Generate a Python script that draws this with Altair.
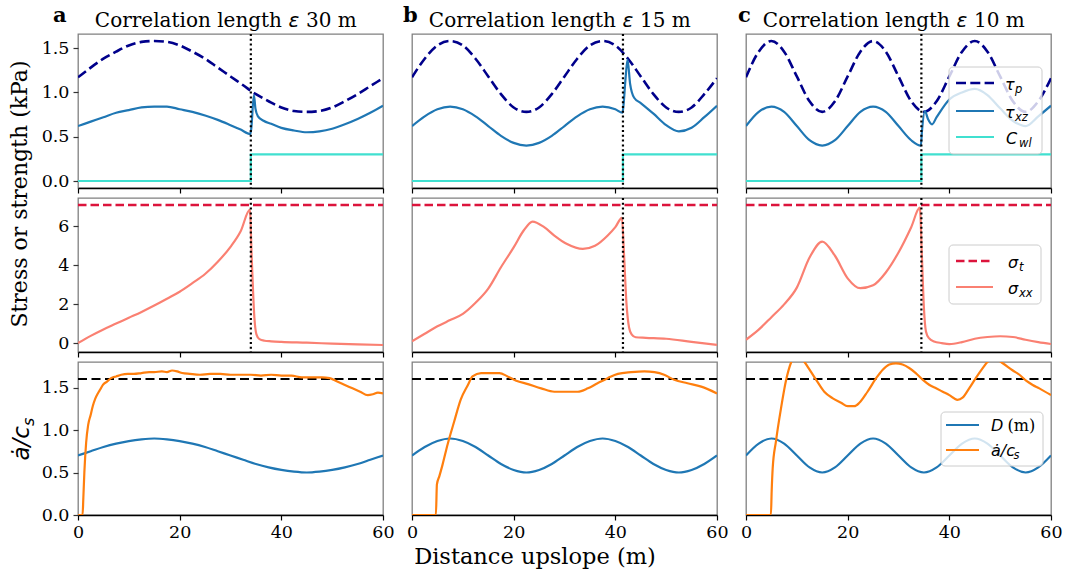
import altair as alt
import pandas as pd

# ------------------------------------------------------------------ data
X_GRID = [0, 2.5, 5, 7.5, 10, 12.5, 15, 17.5, 20, 22.5, 25, 27.5, 30,
          32.5, 35, 37.5, 40, 42.5, 45, 47.5, 50, 52.5, 55, 57.5, 60]

TAU_P_A = [1.17, 1.28, 1.38, 1.46, 1.53, 1.57, 1.58, 1.57, 1.53, 1.46, 1.38, 1.28, 1.18,
           1.08, 0.98, 0.90, 0.83, 0.79, 0.78, 0.79, 0.83, 0.90, 0.98, 1.07, 1.16]
TAU_P_B = [1.17, 1.38, 1.53, 1.58, 1.53, 1.38, 1.18, 0.98, 0.83, 0.78, 0.83, 0.98, 1.18,
           1.38, 1.53, 1.58, 1.53, 1.38, 1.18, 0.98, 0.83, 0.78, 0.83, 0.98, 1.16]
TAU_P_C = [1.17, 1.46, 1.58, 1.46, 1.18, 0.90, 0.78, 0.90, 1.18, 1.46, 1.58, 1.46, 1.18,
           0.90, 0.78, 0.90, 1.18, 1.46, 1.58, 1.46, 1.18, 0.90, 0.78, 0.90, 1.16]

D_A = [0.70, 0.75, 0.80, 0.84, 0.87, 0.89, 0.90, 0.89, 0.87, 0.84, 0.80, 0.75, 0.70,
       0.65, 0.60, 0.56, 0.53, 0.51, 0.50, 0.51, 0.53, 0.56, 0.60, 0.65, 0.70]
D_B = [0.70, 0.80, 0.87, 0.90, 0.87, 0.80, 0.70, 0.60, 0.53, 0.50, 0.53, 0.60, 0.70,
       0.80, 0.87, 0.90, 0.87, 0.80, 0.70, 0.60, 0.53, 0.50, 0.53, 0.60, 0.70]
D_C = [0.70, 0.84, 0.90, 0.84, 0.70, 0.56, 0.50, 0.56, 0.70, 0.84, 0.90, 0.84, 0.70,
       0.56, 0.50, 0.56, 0.70, 0.84, 0.90, 0.84, 0.70, 0.56, 0.50, 0.56, 0.70]

TXZ_A_X = [0, 2.5, 5, 7.5, 10, 12.5, 15, 17.5, 20, 22.5, 25, 27.5, 30, 32, 33.9,
           34.1, 34.6, 34.9, 35.4, 36.5, 38, 40, 42.5, 45, 47.5, 50, 52.5, 55, 57.5, 60]
TXZ_A = [0.62, 0.67, 0.72, 0.77, 0.80, 0.83, 0.84, 0.84, 0.81, 0.78, 0.74, 0.69, 0.63, 0.58, 0.53,
         0.60, 0.97, 0.82, 0.73, 0.68, 0.645, 0.60, 0.57, 0.55, 0.56, 0.59, 0.64, 0.70, 0.77, 0.85]

TXZ_B_X = [0, 2.5, 5, 7.5, 10, 12.5, 15, 17.5, 20, 22.5, 25, 27.5, 30, 32.5, 35,
           37.5, 40, 41.4, 41.6, 42.0, 42.4, 42.9, 43.7, 45, 47.5, 50, 52.5, 55, 57.5, 60]
TXZ_B = [0.62, 0.73, 0.81, 0.84, 0.81, 0.73, 0.62, 0.51, 0.43, 0.40, 0.43, 0.51, 0.62, 0.73, 0.81,
         0.84, 0.81, 0.77, 0.85, 1.15, 1.37, 1.10, 0.94, 0.88, 0.76, 0.63, 0.56, 0.60, 0.72, 0.85]

TXZ_C_X = [0, 2.5, 5, 7.5, 10, 12.5, 15, 17.5, 20, 22.5, 25, 27.5, 30, 32.5, 34.4,
           34.6, 35.2, 35.8, 36.6, 37.5, 40, 42.5, 45, 47.5, 50, 52.5, 55, 57.5, 60]
TXZ_C = [0.62, 0.78, 0.84, 0.78, 0.62, 0.46, 0.40, 0.46, 0.62, 0.78, 0.84, 0.78, 0.62, 0.46, 0.40,
         0.55, 0.79, 0.70, 0.64, 0.72, 0.92, 1.00, 1.04, 0.97, 0.82, 0.68, 0.62, 0.73, 0.85]

SXX_A_X = [0, 2.5, 5, 7.5, 10, 12.5, 15, 17.5, 20, 22.5, 25, 27.5, 30, 32, 33.8,
           34.2, 34.7, 35.1, 35.7, 36.7, 38, 40, 45, 50, 55, 60]
SXX_A = [0.0, 0.37, 0.70, 1.00, 1.30, 1.60, 1.93, 2.28, 2.64, 3.08, 3.55, 4.18, 4.95, 5.75, 6.85,
         4.20, 1.30, 0.45, 0.20, 0.12, 0.09, 0.06, 0.02, -0.03, -0.07, -0.10]

SXX_B_X = [0, 2.5, 5, 7.5, 10, 12.5, 15, 17.5, 20, 22, 23.7, 26, 28, 30.5,
           33.6, 36, 38.5, 40, 41.3, 41.7, 42.2, 42.7, 43.2, 44, 46, 50, 55, 60]
SXX_B = [0.09, 0.48, 0.86, 1.18, 1.50, 2.07, 2.80, 3.90, 4.92, 5.80, 6.25, 5.96, 5.53, 5.09,
         4.84, 5.00, 5.53, 5.96, 6.44, 4.60, 2.00, 0.80, 0.45, 0.30, 0.27, 0.22, 0.06, -0.09]

SXX_C_X = [0, 2.5, 5, 7.5, 10, 12.5, 15, 17.5, 20, 22.5, 25, 27.5, 30, 32.5, 34.2,
           34.6, 35.0, 35.4, 36, 37, 38.5, 40, 42.5, 45, 47.5, 50, 52.5, 55, 57.5, 60]
SXX_C = [0.17, 0.69, 1.33, 1.99, 2.85, 4.40, 5.22, 4.49, 3.33, 2.82, 2.97, 3.63, 4.66, 5.96, 6.96,
         4.50, 1.80, 0.60, 0.25, 0.08, 0.00, -0.05, 0.05, 0.22, 0.31, 0.35, 0.31, 0.17, 0.05, -0.05]

ADOT_A_X = [0, 0.9, 1.05, 1.25, 1.6, 2.0, 2.5, 2.9, 3.4, 3.9, 4.4, 4.9, 5.7, 6.5, 7.5, 8.5,
            9.8, 11, 12.5, 14, 15, 16.5, 17.5, 18.5, 19.5, 20.5, 22, 24, 26, 28, 30, 32, 34,
            36, 38, 40, 42, 44, 46, 48, 49.5, 51, 52.5, 54, 55.5, 57, 58, 59, 60]
ADOT_A = [0, 0, 0.20, 0.50, 0.85, 1.06, 1.18, 1.28, 1.37, 1.43, 1.48, 1.53, 1.57, 1.61, 1.63, 1.65,
          1.66, 1.66, 1.67, 1.68, 1.68, 1.69, 1.68, 1.70, 1.69, 1.67, 1.66, 1.65, 1.66, 1.66, 1.65,
          1.65, 1.65, 1.64, 1.65, 1.64, 1.64, 1.62, 1.62, 1.62, 1.61, 1.57, 1.53, 1.49, 1.45, 1.41,
          1.42, 1.44, 1.43]

ADOT_B_X = [0, 4.7, 4.9, 5.4, 6.0, 7.0, 8.3, 9.6, 11.0, 11.9, 13.6, 15.2, 17.2, 18.8, 20.5, 22.8,
            25.4, 28.0, 30.6, 32.6, 34.6, 36.5, 38.5, 40.5, 43.1, 45.7, 47.7, 49.6, 51.6, 54.2,
            56.9, 60]
ADOT_B = [0, 0, 0.36, 0.46, 0.59, 0.83, 1.10, 1.36, 1.53, 1.63, 1.67, 1.67, 1.67, 1.63, 1.58, 1.54,
          1.49, 1.45, 1.45, 1.45, 1.49, 1.55, 1.61, 1.66, 1.68, 1.69, 1.68, 1.65, 1.59, 1.55,
          1.51, 1.43]

ADOT_C_X = [0, 4.9, 5.05, 5.25, 5.9, 6.9, 7.9, 8.9, 10.2, 11.5, 13.8, 15.4, 17.0, 18.7, 20.0,
            21.3, 22.3, 23.9, 25.6, 26.9, 28.2, 29.5, 30.8, 32.1, 33.4, 34.8, 36.1, 37.4, 38.7,
            40.0, 41.0, 41.6, 42.6, 43.9, 45.2, 46.6, 47.5, 49.0, 50.5, 52.5, 53.8, 55.1, 56.4,
            57.7, 60]
ADOT_C = [0, 0, 0.28, 0.55, 0.87, 1.26, 1.59, 1.80, 1.90, 1.80, 1.59, 1.45, 1.375, 1.32, 1.28,
          1.28, 1.32, 1.45, 1.61, 1.71, 1.77, 1.785, 1.77, 1.73, 1.67, 1.59, 1.53, 1.49, 1.45,
          1.41, 1.37, 1.355, 1.38, 1.49, 1.61, 1.73, 1.80, 1.84, 1.785, 1.70, 1.65, 1.58, 1.53,
          1.49, 1.41]

FRACTURE_X = [34.0, 41.5, 34.5]
EPSILON = [30, 15, 10]
LETTERS = ["a", "b", "c"]
C_WL_LEVEL = 0.3
SIGMA_T = 7.1
ADOT_CRIT = 1.6
X_TICKS = [0, 20, 40, 60]

TAU_P = [TAU_P_A, TAU_P_B, TAU_P_C]
D_ALL = [D_A, D_B, D_C]
TXZ_XS = [TXZ_A_X, TXZ_B_X, TXZ_C_X]
TXZ_ALL = [TXZ_A, TXZ_B, TXZ_C]
SXX_XS = [SXX_A_X, SXX_B_X, SXX_C_X]
SXX_ALL = [SXX_A, SXX_B, SXX_C]
ADOT_XS = [ADOT_A_X, ADOT_B_X, ADOT_C_X]
ADOT_ALL = [ADOT_A, ADOT_B, ADOT_C]

# ------------------------------------------------------------------ style
NAVY = "#00008b"
BLUE = "#1f77b4"
TURQ = "#40e0d0"
CRIMSON = "#dc143c"
SALMON = "#fa8072"
ORANGE = "#ff7f0e"
SERIF = "DejaVu Serif"
MATH = "DejaVu Sans"
TICK_FS = 17.5

W = 305
H1 = 154
H3 = 153

XSCALE = alt.Scale(domain=[0, 60], nice=False, zero=False)
Y1 = alt.Scale(domain=[-0.079, 1.659], nice=False, zero=False)
Y2 = alt.Scale(domain=[-0.46, 7.46], nice=False, zero=False)
Y3 = alt.Scale(domain=[0, 1.8], nice=False, zero=False)

ONE = alt.Data(values=[{"k": 0}])


def frame(xs, ys):
    return pd.DataFrame({"x": xs, "y": ys, "i": list(range(len(xs)))})


def x_enc(labels):
    return alt.X("x:Q", scale=XSCALE,
                 axis=alt.Axis(values=X_TICKS, labels=labels, title=None, format="d",
                               domain=True, domainColor="black", domainWidth=1.3,
                               ticks=True, tickSize=5, tickColor="black", tickWidth=1.2,
                               labelFont=SERIF, labelFontSize=TICK_FS, labelColor="black",
                               labelPadding=3, labelFlush=False, labelOverlap=False,
                               grid=False))


def y_enc(scale, ticks, fmt, show):
    if show:
        return alt.Y("y:Q", scale=scale,
                     axis=alt.Axis(values=ticks, format=fmt, title=None, domain=False,
                                   ticks=True, tickSize=5, tickColor="#333333", tickWidth=1.2,
                                   labelFont=SERIF, labelFontSize=TICK_FS, labelColor="black",
                                   labelPadding=4, labelFlush=False, labelOverlap=False,
                                   grid=False))
    return alt.Y("y:Q", scale=scale, axis=None)


def line_layer(df, xe, ye, color, width=2.2, dash=None, interp="monotone"):
    props = dict(color=color, strokeWidth=width, interpolate=interp, clip=True)
    if dash is not None:
        props["strokeDash"] = dash
    return alt.Chart(df).mark_line(**props).encode(x=xe, y=ye, order=alt.Order("i:Q"))


def vrule(xv, xe, h):
    return alt.Chart(pd.DataFrame({"x": [xv]})).mark_rule(
        color="black", strokeWidth=2.2, strokeDash=[2, 2.8]).encode(
        x=xe, y=alt.value(0), y2=alt.value(h))


def hline(yv, ye, color, dash, width):
    return alt.Chart(pd.DataFrame({"y": [yv]})).mark_rule(
        color=color, strokeWidth=width, strokeDash=dash).encode(
        y=ye, x=alt.value(0), x2=alt.value(W))


def text(px, py, s, size=16, font=SERIF, style="normal", weight="normal",
         align="left", baseline="alphabetic", angle=0, dy=0):
    return alt.Chart(ONE).mark_text(font=font, fontSize=size, fontStyle=style,
                                    fontWeight=weight, align=align, baseline=baseline,
                                    angle=angle, dy=dy, color="black").encode(
        x=alt.value(px), y=alt.value(py), text=alt.value(s))


def sample(x1, x2, y, color, width, dash=None):
    props = dict(color=color, strokeWidth=width)
    if dash is not None:
        props["strokeDash"] = dash
    return alt.Chart(ONE).mark_rule(**props).encode(
        x=alt.value(x1), x2=alt.value(x2), y=alt.value(y))


def box(x1, x2, y1, y2):
    return alt.Chart(ONE).mark_rect(fill="white", fillOpacity=0.8, stroke="#cccccc",
                                    strokeWidth=1, cornerRadius=4).encode(
        x=alt.value(x1), x2=alt.value(x2), y=alt.value(y1), y2=alt.value(y2))


LETTER_DX = [-25, -9, -8]
EPS_X = 216

rows = [[], [], []]
for k in range(3):
    xf = FRACTURE_X[k]
    show_y = k == 0
    xe0 = x_enc(False)
    xe1 = x_enc(True)

    # ---- row 1: shear stress / strength
    ye1 = y_enc(Y1, [0, 0.5, 1.0, 1.5], ".1f", show_y)
    top = [
        line_layer(frame(X_GRID, TAU_P[k]), xe0, ye1, NAVY, 2.6, [10, 4.3]),
        line_layer(frame(TXZ_XS[k], TXZ_ALL[k]), xe0, ye1, BLUE, 2.2),
        line_layer(frame([0, xf, xf, 60], [0, 0, C_WL_LEVEL, C_WL_LEVEL]), xe0, ye1, TURQ, 2.2,
                   interp="linear"),
        vrule(xf, xe0, H1),
        text(LETTER_DX[k], -12, LETTERS[k], size=21, weight="bold"),
        text(EPS_X - 12, -7, "Correlation length", size=20, align="right"),
        text(EPS_X, -7, "\u03b5", size=20, font=MATH, style="italic", align="center"),
        text(EPS_X + 12, -7, f"{EPSILON[k]} m", size=20, align="left"),
    ]
    if k == 0:
        top.append(text(-58, 160, "Stress or strength (kPa)", size=22, align="center",
                        baseline="middle", angle=270))
    if k == 2:
        top += [
            box(203, 296, 33, 120),
            sample(210, 248, 49, NAVY, 2.6, [10, 4.3]),
            sample(210, 248, 77, BLUE, 2.2),
            sample(210, 248, 103, TURQ, 2.2),
            text(259, 55.5, "\u03c4", size=16, font=MATH, style="italic"),
            text(269, 58.5, "p", size=11.5, font=MATH, style="italic"),
            text(259, 83.5, "\u03c4", size=16, font=MATH, style="italic"),
            text(269, 86.5, "xz", size=11.5, font=MATH, style="italic"),
            text(260, 109.5, "C", size=16, font=MATH, style="italic"),
            text(273, 112.5, "wl", size=11.5, font=MATH, style="italic"),
        ]
    rows[0].append(alt.layer(*top).properties(width=W, height=H1))

    # ---- row 2: tensile stress / strength
    ye2 = y_enc(Y2, [0, 2, 4, 6], "d", show_y)
    mid = [
        line_layer(frame(SXX_XS[k], SXX_ALL[k]), xe0, ye2, SALMON, 2.2),
        hline(SIGMA_T, ye2, CRIMSON, [8.5, 4], 2.5),
        vrule(xf, xe0, H1),
    ]
    if k == 2:
        mid += [
            box(203, 295, 47, 106),
            sample(210, 247, 63, CRIMSON, 2.5, [8.5, 4]),
            sample(210, 247, 89, SALMON, 2.2),
            text(262, 69.5, "\u03c3", size=16, font=MATH, style="italic"),
            text(273, 72.5, "t", size=11.5, font=MATH, style="italic"),
            text(262, 95.5, "\u03c3", size=16, font=MATH, style="italic"),
            text(273, 98.5, "xx", size=11.5, font=MATH, style="italic"),
        ]
    rows[1].append(alt.layer(*mid).properties(width=W, height=H1))

    # ---- row 3: slab depth and crack speed
    ye3 = y_enc(Y3, [0, 0.5, 1.0, 1.5], ".1f", show_y)
    bot = [
        hline(ADOT_CRIT, ye3, "black", [9, 4.5], 2.2),
        line_layer(frame(X_GRID, D_ALL[k]), xe1, ye3, BLUE, 2.2),
        line_layer(frame(ADOT_XS[k], ADOT_ALL[k]), xe1, ye3, ORANGE, 2.2),
    ]
    if k == 0:
        bot += [
            text(-49, 64, "\u0227/c", size=23, font=MATH, style="italic", align="right",
                 angle=270),
            text(-49, 64, "s", size=16, font=MATH, style="italic", align="left",
                 angle=270, dy=5),
        ]
    if k == 1:
        bot.append(text(123, 202, "Distance upslope (m)", size=22.5, align="center"))
    if k == 2:
        bot += [
            box(195, 297, 50, 104),
            sample(200, 233, 63, BLUE, 2.2),
            sample(200, 233, 88, ORANGE, 2.2),
            text(245, 69, "D", size=16, font=MATH, style="italic"),
            text(261.5, 69, "(m)", size=16),
            text(245, 94, "\u0227/c", size=16, font=MATH, style="italic"),
            text(267.5, 97, "s", size=11.5, font=MATH, style="italic"),
        ]
    rows[2].append(alt.layer(*bot).properties(width=W, height=H3))

panels = rows[0] + rows[1] + rows[2]

chart = alt.concat(*panels, columns=3, spacing={"row": 10, "column": 29},
                   bounds="flush").properties(
    padding={"left": 8, "top": 4, "right": 0, "bottom": 0}
).configure_view(
    stroke="#808080", strokeWidth=1.3
).configure_axis(
    labelFont=SERIF, labelFontSize=TICK_FS, labelColor="black", grid=False
)

chart.save("out.html", embed_options={"renderer": "svg", "actions": False})
